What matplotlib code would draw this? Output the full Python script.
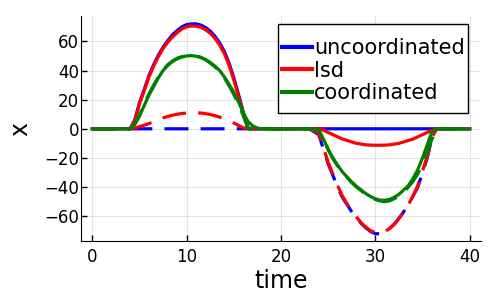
import matplotlib.pyplot as plt
from matplotlib.patches import Rectangle

# time points (s); finer spacing where the bumps are
t_pre = [0, 1, 2, 3]
t_bump1 = [4.0, 4.5, 5.0, 5.5, 6.0, 6.5, 7.0, 7.5, 8.0, 8.5, 9.0, 9.5, 10.0, 10.5,
           11.0, 11.5, 12.0, 12.5, 13.0, 13.5, 14.0, 14.5, 15.0, 15.5, 16.0, 16.5,
           17.0, 17.5, 18.0]
t_mid = [19, 20, 21, 22, 23]
t_bump2 = [24.0, 24.5, 25.0, 25.5, 26.0, 26.5, 27.0, 27.5, 28.0, 28.5, 29.0, 29.5,
           30.0, 30.5, 31.0, 31.5, 32.0, 32.5, 33.0, 33.5, 34.0, 34.5, 35.0, 35.5,
           36.0, 36.5, 37.0]
t_post = [38, 39, 40]

# first bump (t = 4 .. 18)
unc_solid_1 = [0, 6, 18, 27, 36.5, 44, 50.5, 56, 60.5, 64.5, 67.5, 70, 71.5, 72,
               72, 71.2, 69.5, 67, 63.5, 59, 53, 45, 35, 23.5, 11.5, 0.5, 0, 0, 0]
unc_dash_1 = [0] * 29
lsd_solid_1 = [0, 5.5, 17, 26, 35.5, 43, 49.5, 55, 59.5, 63, 66, 68.5, 70, 70.5,
               70.5, 69.7, 68, 65.5, 62, 57.5, 51.5, 43.5, 33.5, 22, 10.5, 0.5, 0, 0, 0]
lsd_dash_1 = [0, 0.5, 1.5, 2.5, 3.5, 5, 6.3, 7.5, 8.5, 9.3, 10, 10.5, 10.8, 11,
              11, 10.8, 10.4, 9.8, 9, 8, 6.8, 5.5, 4, 2.3, 0.7, 0, 0, 0, 0]
coo_solid_1 = [0, 3, 8.5, 16, 23, 29, 35, 40, 43.5, 46.2, 48, 49.2, 50, 50.2,
               49.8, 49, 47.5, 45.5, 43, 40, 35.5, 30.5, 25, 18.5, 11, 5, 2, 0.5, 0]
coo_dash_1 = [0, 3.5, 9.5, 17, 24, 30, 35.5, 40.5, 44, 46.5, 48.5, 49.5, 50, 50.3,
              50, 49, 47.5, 45, 42.5, 39.5, 35, 29.5, 23.5, 17, 9, 0, 0, 0, 0]

# second bump (t = 24 .. 37)
unc_solid_2 = [0] * 27
unc_dash_2 = [-4, -14, -24, -32, -40, -47, -52, -57, -61, -65, -68, -70.5, -72,
              -72, -71, -68.5, -65.5, -61.5, -57, -52, -46, -40, -30, -20, -6, 0, 0]
lsd_solid_2 = [0, -1, -2.5, -4, -5.5, -7, -8, -9, -10, -10.5, -11, -11.2, -11.3,
               -11.3, -11.2, -11, -10.5, -10, -9, -8, -7, -5.5, -4, -2.5, -1, 0, 0]
lsd_dash_2 = [-3, -13, -23, -31, -39, -46, -51.5, -56.5, -60.5, -64.5, -67.5, -70, -71,
              -71.2, -70.5, -68.5, -65.5, -61.5, -57, -52, -46, -39, -29, -19, -6, 0, 0]
coo_solid_2 = [-1, -7, -14, -20, -25, -29.5, -33, -36.5, -39.5, -42, -44.5, -46.5, -48,
               -49, -49, -48.5, -47, -45, -42, -39, -34, -28, -20, -11, -2, 0, 0]
coo_dash_2 = [-1, -7, -14.5, -20.5, -25.5, -30, -33.5, -37, -40, -42.5, -45, -47, -48.5,
              -49.5, -50, -49.5, -48, -46, -43.5, -40, -36, -31, -24, -16, -7, -1, 0]

time = t_pre + t_bump1 + t_mid + t_bump2 + t_post


def full(b1, b2):
    return [0] * len(t_pre) + b1 + [0] * len(t_mid) + b2 + [0] * len(t_post)


lw = 2.3
dash = (7.5, 3.8)

fig = plt.figure(figsize=(4.98, 2.99), dpi=100)
ax = fig.add_axes([81 / 498, 1 - 241 / 299, 400 / 498, 225 / 299])

ax.plot(time, full(unc_solid_1, unc_solid_2), color='blue', lw=lw, label='uncoordinated')
ax.plot(time, full(unc_dash_1, unc_dash_2), color='blue', lw=lw, ls='--', dashes=dash, label='_nolegend_')
ax.plot(time, full(lsd_solid_1, lsd_solid_2), color='red', lw=lw, label='lsd')
ax.plot(time, full(lsd_dash_1, lsd_dash_2), color='red', lw=lw, ls='--', dashes=dash, label='_nolegend_')
ax.plot(time, full(coo_solid_1, coo_solid_2), color='green', lw=lw, label='coordinated')
ax.plot(time, full(coo_dash_1, coo_dash_2), color='green', lw=lw, ls='--', dashes=dash, label='_nolegend_')

ax.set_xlim(-1.2, 41.2)
ax.set_ylim(-77, 77.4)
ax.set_xticks([0, 10, 20, 30, 40])
ax.set_yticks([-60, -40, -20, 0, 20, 40, 60])
ax.tick_params(direction='in', length=4, width=1, labelsize=12, colors='black')
ax.tick_params(axis='x', pad=5)
ax.tick_params(axis='y', pad=1.5)
ax.grid(True, color='black', alpha=0.1, lw=0.8)
ax.spines['top'].set_visible(False)
ax.spines['right'].set_visible(False)
ax.set_xlabel('time', fontsize=17, labelpad=2)
ax.set_ylabel('x', fontsize=17, labelpad=8)

# legend box drawn by hand (square corners, tall padding like the original)
ax.add_patch(Rectangle((0.4925, 0.569), 0.475, 0.3955, transform=ax.transAxes,
                       facecolor='white', edgecolor='black', lw=1, zorder=4.9, clip_on=False))
leg = ax.legend(loc='upper left', bbox_to_anchor=(0.5018, 0.902), borderaxespad=0,
                fontsize=15, handlelength=1.45, handletextpad=0.1, labelspacing=0.12,
                borderpad=0, frameon=False)
for line in leg.get_lines():
    line.set_linewidth(3)

plt.savefig('out.png')
